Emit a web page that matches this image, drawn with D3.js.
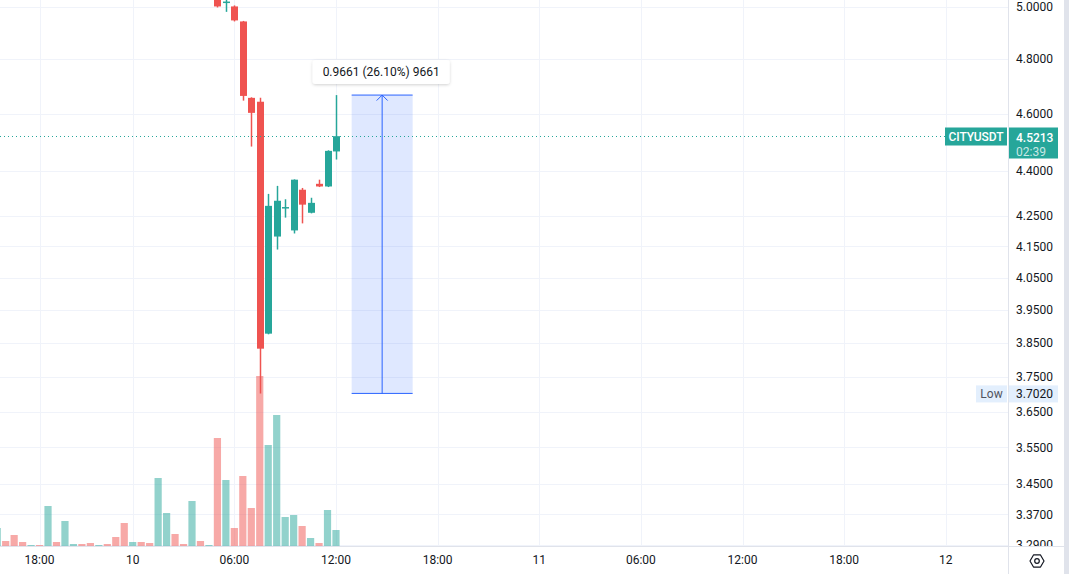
<!DOCTYPE html>
<html>
<head>
<meta charset="utf-8">
<script src="https://cdn.jsdelivr.net/npm/d3@7"></script>
<style>
    body { margin: 0; background: #fff; overflow: hidden; }
    svg text { font-family: Roboto, "Noto Sans", sans-serif; font-size: 12px; fill: #131722; }
</style>
</head>
<body>
<svg id="chart"></svg>
<script>
// 30 min bars, bar 0 = first bar at the left edge (day 9, afternoon)
var timeTicks = [5, 16, 28, 40, 52, 64, 76, 88, 100, 112];
var timeLabels = ['18:00', '10', '06:00', '12:00', '18:00', '11', '06:00', '12:00', '18:00', '12'];

var priceTicks = [5.0, 4.8, 4.6, 4.4, 4.25, 4.15, 4.05, 3.95, 3.85, 3.75, 3.65, 3.55, 3.45, 3.37, 3.29];

var volume = [18, 5, 11, 4, 1, 1, 40, 4, 25, 2, 2, 3, 1, 2, 9, 23, 4, 4, 3, 68, 33, 12, 2, 45, 5, 1,
              108, 66, 18, 70, 38, 170, 101, 131, 29, 31, 20, 8, 3, 36, 16];
var volumeUp = [1, 0, 0, 0, 1, 0, 1, 0, 1, 1, 0, 0, 1, 0, 0, 0, 1, 0, 0, 1, 1, 0, 0, 1, 0, 1,
                0, 1, 0, 0, 0, 0, 1, 1, 1, 1, 0, 1, 0, 1, 1];

// candles from bar 26 on, earlier ones are above the top of the pane
var candleStart = 26;
var open  = [5.060, 5.015, 5.001, 4.943, 4.658, 4.644, 3.878, 4.182, 4.279, 4.202, 4.337, 4.260, 4.357, 4.348, 4.468];
var high  = [5.080, 5.050, 5.005, 4.945, 4.660, 4.658, 4.323, 4.350, 4.305, 4.372, 4.343, 4.310, 4.371, 4.472, 4.668];
var low   = [4.997, 4.980, 4.943, 4.648, 4.485, 3.702, 3.876, 4.140, 4.244, 4.192, 4.225, 4.258, 4.346, 4.346, 4.440];
var close = [5.001, 5.020, 4.947, 4.665, 4.604, 3.833, 4.283, 4.300, 4.279, 4.371, 4.287, 4.293, 4.348, 4.470, 4.5213];

var symbol = 'CITYUSDT';
var countdown = '02:39';
var lowPrice = 3.702;

// price range drawing: bars and prices it is anchored to
var rangeBars = [41.85, 49.05];
var rangePrices = [3.702, 4.6681];

var W = 1069, H = 574;
var paneW = 1008, paneH = 546;
var up = '#26a69a', down = '#ef5350';

var svg = d3.select('#chart').attr('width', W).attr('height', H);

var x = d3.scaleLinear().domain([0, 112]).range([-2.8, 945.8]);
var y = d3.scaleLog().domain([5.0, 3.37]).range([6.7, 514.3]);
var yVol = d3.scaleLinear().domain([0, d3.max(volume)]).range([paneH, 376]);

var defs = svg.append('defs');
defs.append('clipPath').attr('id', 'pane')
    .append('rect').attr('width', paneW).attr('height', paneH);
defs.append('clipPath').attr('id', 'axis')
    .append('rect').attr('x', paneW).attr('width', W - paneW).attr('height', paneH);
var shadow = defs.append('filter').attr('id', 'shadow')
    .attr('x', '-20%').attr('y', '-50%').attr('width', '140%').attr('height', '200%');
shadow.append('feDropShadow').attr('dx', 0).attr('dy', 1).attr('stdDeviation', 1.5)
    .attr('flood-color', '#000').attr('flood-opacity', 0.18);

var pane = svg.append('g').attr('clip-path', 'url(#pane)');

//grid
pane.selectAll('.hgrid').data(priceTicks).enter().append('line')
    .attr('x1', 0).attr('x2', paneW)
    .attr('y1', function (d) { return Math.round(y(d)) + 0.5; })
    .attr('y2', function (d) { return Math.round(y(d)) + 0.5; })
    .style('stroke', '#f0f3fa');
pane.selectAll('.vgrid').data(timeTicks).enter().append('line')
    .attr('x1', function (d) { return Math.round(x(d)) + 0.5; })
    .attr('x2', function (d) { return Math.round(x(d)) + 0.5; })
    .attr('y1', 0).attr('y2', paneH)
    .style('stroke', '#f0f3fa');

//volume
pane.selectAll('.vol').data(volume).enter().append('rect')
    .attr('x', function (d, i) { return x(i) - 3.6; })
    .attr('width', 7.2)
    .attr('y', function (d) { return yVol(d); })
    .attr('height', function (d) { return paneH - yVol(d); })
    .style('fill', function (d, i) { return volumeUp[i] ? up : down; })
    .style('opacity', 0.5);

//price range drawing
var rx0 = x(rangeBars[0]), rx1 = x(rangeBars[1]);
var ry0 = y(rangePrices[0]), ry1 = y(rangePrices[1]);
var rmid = (rx0 + rx1) / 2;
pane.append('rect')
    .attr('x', rx0).attr('y', ry1)
    .attr('width', rx1 - rx0).attr('height', ry0 - ry1)
    .style('fill', 'rgba(41,98,255,0.15)');
pane.selectAll('.rline').data(rangePrices).enter().append('line')
    .attr('x1', rx0).attr('x2', rx1)
    .attr('y1', function (d) { return y(d); })
    .attr('y2', function (d) { return y(d); })
    .style('stroke', '#2962ff');
pane.append('line')
    .attr('x1', rmid).attr('x2', rmid).attr('y1', ry0).attr('y2', ry1)
    .style('stroke', '#2962ff');
pane.append('path')
    .attr('d', 'M' + (rmid - 5.5) + ',' + (ry1 + 5.5) + 'L' + rmid + ',' + ry1 + 'L' + (rmid + 5.5) + ',' + (ry1 + 5.5))
    .style('fill', 'none').style('stroke', '#2962ff');

//candles
var candles = d3.range(open.length).map(function (k) {
    return { i: candleStart + k, o: open[k], h: high[k], l: low[k], c: close[k] };
});
var cg = pane.selectAll('.candle').data(candles).enter().append('g');
cg.append('line')
    .attr('x1', function (d) { return Math.round(x(d.i)) + 0.5; })
    .attr('x2', function (d) { return Math.round(x(d.i)) + 0.5; })
    .attr('y1', function (d) { return y(d.h); })
    .attr('y2', function (d) { return y(d.l); })
    .style('stroke', function (d) { return d.c >= d.o ? up : down; })
    .style('stroke-width', 1.5);
cg.append('rect')
    .attr('x', function (d) { return Math.round(x(d.i)) + 0.5 - 3.5; })
    .attr('width', 7)
    .attr('y', function (d) { return y(Math.max(d.o, d.c)); })
    .attr('height', function (d) { return Math.max(1.5, Math.abs(y(d.o) - y(d.c))); })
    .style('fill', function (d) { return d.c >= d.o ? up : down; });

//last price line
var lastPrice = close[close.length - 1];
var yLast = Math.round(y(lastPrice)) + 0.5;
pane.append('line')
    .attr('x1', 0).attr('x2', 945).attr('y1', yLast).attr('y2', yLast)
    .style('stroke', up).style('stroke-dasharray', '1,3');

//range label
var diff = rangePrices[1] - rangePrices[0];
var rangeText = diff.toFixed(4) + ' (' + (diff / rangePrices[0] * 100).toFixed(2) + '%) ' + Math.round(diff * 10000);
var tip = svg.append('g');
var tipText = tip.append('text')
    .attr('x', rmid - 1).attr('y', ry1 - 23)
    .attr('text-anchor', 'middle').attr('dy', '0.35em')
    .text(rangeText);
var tw = tipText.node().getComputedTextLength() + 20;
tip.insert('rect', 'text')
    .attr('x', rmid - 1 - tw / 2).attr('y', ry1 - 35)
    .attr('width', tw).attr('height', 24).attr('rx', 3)
    .style('fill', '#fff').attr('filter', 'url(#shadow)');

//axis borders
svg.append('line').attr('x1', paneW + 0.5).attr('x2', paneW + 0.5).attr('y1', 0).attr('y2', H)
    .style('stroke', '#e0e3eb');
svg.append('line').attr('x1', 0).attr('x2', W).attr('y1', paneH + 0.5).attr('y2', paneH + 0.5)
    .style('stroke', '#e0e3eb');
svg.append('rect').attr('x', 1064).attr('width', 5).attr('height', H).style('fill', '#e0e3eb');

//price labels
svg.append('g').attr('clip-path', 'url(#axis)')
    .selectAll('text').data(priceTicks).enter().append('text')
    .attr('x', 1016).attr('y', function (d) { return y(d); })
    .attr('dy', '0.35em')
    .text(function (d) { return d.toFixed(4); });

//low label
var yLow = y(lowPrice);
svg.append('rect').attr('x', 976).attr('y', yLow - 8).attr('width', 31).attr('height', 17)
    .style('fill', '#e3effd');
svg.append('rect').attr('x', paneW + 1).attr('y', yLow - 8).attr('width', 49).attr('height', 17)
    .style('fill', '#e3effd');
svg.append('text').attr('x', 991.5).attr('y', yLow).attr('dy', '0.35em')
    .attr('text-anchor', 'middle').style('fill', '#50535e').text('Low');
svg.append('text').attr('x', 1016).attr('y', yLow).attr('dy', '0.35em').text(lowPrice.toFixed(4));

//last price labels
svg.append('rect').attr('x', 945).attr('y', yLast - 9).attr('width', 62).attr('height', 18)
    .style('fill', up);
svg.append('text').attr('x', 976).attr('y', yLast).attr('dy', '0.35em')
    .attr('text-anchor', 'middle').style('fill', '#fff').style('font-weight', 500)
    .text(symbol);
svg.append('rect').attr('x', paneW + 1).attr('y', yLast - 9).attr('width', 49).attr('height', 31)
    .style('fill', up);
svg.append('text').attr('x', 1016).attr('y', yLast + 1).attr('dy', '0.35em')
    .style('fill', '#fff').style('font-weight', 500).text(lastPrice.toFixed(4));
svg.append('text').attr('x', 1016).attr('y', yLast + 15).attr('dy', '0.35em')
    .style('fill', 'rgba(255,255,255,0.75)').text(countdown);

//time labels
svg.selectAll('.tlabel').data(timeTicks).enter().append('text')
    .attr('x', function (d) { return x(d); })
    .attr('y', 560).attr('dy', '0.35em')
    .attr('text-anchor', 'middle')
    .text(function (d, i) { return timeLabels[i]; });

//settings icon
var cx = 1037, cy = 561;
var hex = d3.range(6).map(function (k) {
    var a = Math.PI / 3 * k;
    return [cx + 7 * Math.cos(a), cy + 7 * Math.sin(a)];
});
svg.append('path').attr('d', 'M' + hex.join('L') + 'Z')
    .style('fill', 'none').style('stroke', '#131722').style('stroke-width', 1.2)
    .style('stroke-linejoin', 'round');
svg.append('circle').attr('cx', cx).attr('cy', cy).attr('r', 2.3)
    .style('fill', 'none').style('stroke', '#131722').style('stroke-width', 1.2);
</script>
</body>
</html>
